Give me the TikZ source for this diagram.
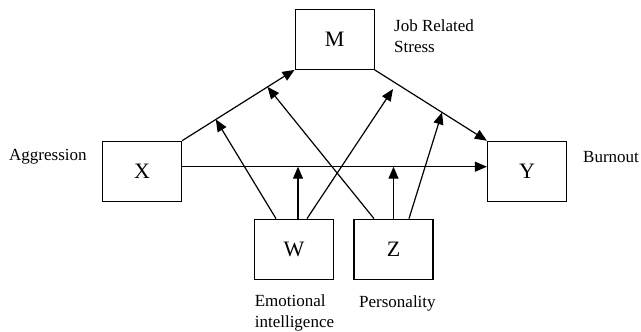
\documentclass[tikz,border=0pt]{standalone}
\usepackage{fontspec}
\setmainfont{Liberation Serif}
\usetikzlibrary{arrows.meta,calc}

\begin{document}
\begin{tikzpicture}[
        x=1pt, y=-1pt,
        var/.style = {shape=rectangle, draw, line width=1.2pt, minimum width=79pt, minimum height=60pt, inner sep=0pt, font=\fontsize{22}{24}\selectfont},
        lbl/.style = {align=left, inner sep=0pt, font=\fontsize{17}{21}\selectfont},
        link/.style = {line width=1.2pt, -{Triangle[length=12pt,width=10pt]}}
    ]
        \useasboundingbox (0,0) rectangle (641,332);

        \node[var] (M) at (334.6,39.3) {M};
        \node[var] (X) at (142,171.3) {X};
        \node[var] (Y) at (527,171.3) {Y};
        \node[var] (W) at (294,249.2) {W};
        \node[var] (Z) at (393.5,249.2) {Z};

        \node[lbl, anchor=west] (jrs) at (394,36) {Job Related\\Stress};
        \node[lbl, anchor=west] (agg) at (9,157) {Aggression};
        \node[lbl, anchor=west] (bur) at (583,157) {Burnout};
        \node[lbl, anchor=west] (emo) at (254.6,313) {Emotional\\intelligence};
        \node[lbl, anchor=west] (per) at (359,303) {Personality};

        \coordinate (h) at ([yshift=4.6pt]X.east);
        \coordinate (xm1) at ($(X.north east)!0.30!(M.south west)$);
        \coordinate (xm2) at ($(X.north east)!0.76!(M.south west)$);
        \coordinate (my) at ($(M.south east)!0.60!(Y.north west)$);
        \coordinate (free) at (393,89);
        \coordinate (w1) at ([xshift=-18pt]W.north);
        \coordinate (w2) at ([xshift=4pt]W.north);
        \coordinate (w3) at ([xshift=13pt]W.north);
        \coordinate (z1) at ([xshift=-19.5pt]Z.north);
        \coordinate (z2) at (Z.north);
        \coordinate (z3) at ([xshift=15.5pt]Z.north);

        \draw[link] (X.north east) -- (M.south west);
        \draw[link] (M.south east) -- (Y.north west);
        \draw[link] (h) -- (h -| Y.west);

        \draw[link] (w1) -- (xm1);
        \draw[link] (w2) -- (w2 |- h);
        \draw[link] (w3) -- (free);
        \draw[link] (z1) -- (xm2);
        \draw[link] (z2) -- (z2 |- h);
        \draw[link] (z3) -- (my);
    \end{tikzpicture}
\end{document}
